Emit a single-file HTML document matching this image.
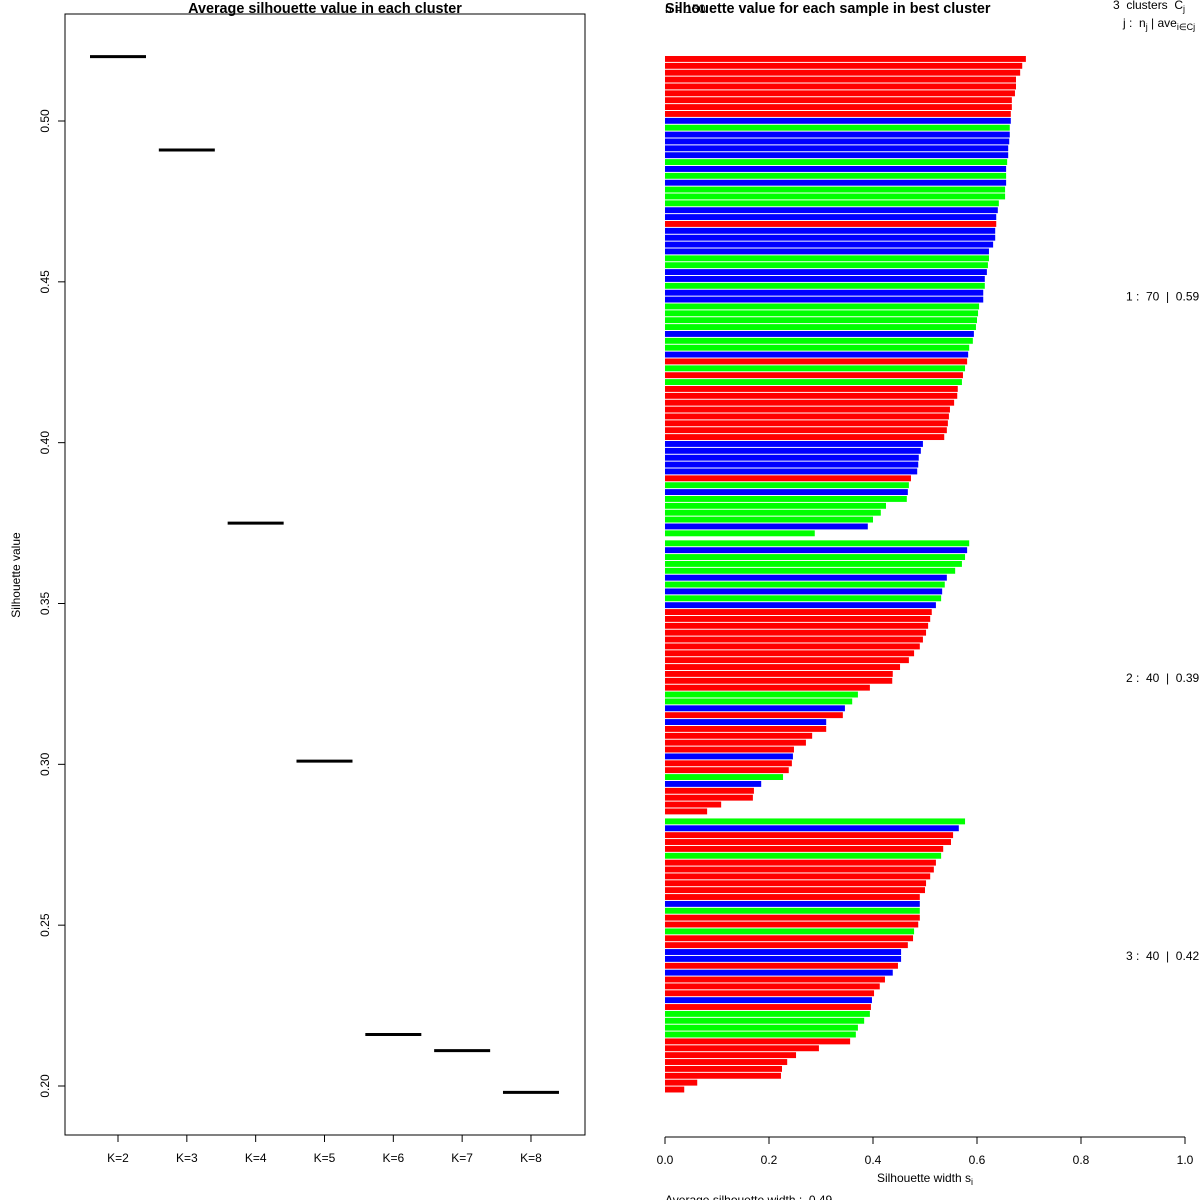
<!DOCTYPE html>
<html><head><meta charset="utf-8"><style>
html,body{margin:0;padding:0;background:#fff;}
svg{display:block;font-family:"Liberation Sans",sans-serif;}
svg text{white-space:pre;}
</style></head><body>
<svg id="chart" width="1200" height="1200" viewBox="0 0 1200 1200">
  <g id="left">
    <rect x="65" y="14" width="520" height="1121" fill="none" stroke="#000" stroke-width="1"/>
    <text x="325" y="13" text-anchor="middle" font-size="14.4" font-weight="bold">Average silhouette value in each cluster</text>
    <text transform="translate(20,575) rotate(-90)" text-anchor="middle" font-size="12">Silhouette value</text>
  </g>
  <g id="right">
    <text x="665" y="13" font-size="14.4" font-weight="bold">Silhouette value for each sample in best cluster</text>
    <text x="665" y="13" font-size="12">n = 150</text>
    <text x="1113" y="9" font-size="12">3  clusters  C<tspan font-size="9" dy="3">j</tspan></text>
    <text x="1123" y="27" font-size="12">j :  n<tspan font-size="9" dy="3">j</tspan><tspan dy="-3"> | ave</tspan><tspan font-size="9" dy="3">i∈Cj</tspan><tspan dy="-3">  s</tspan><tspan font-size="9" dy="3">i</tspan></text>
    <line x1="665" y1="1137" x2="1185" y2="1137" stroke="#000"/>
    <text x="925" y="1182" text-anchor="middle" font-size="12">Silhouette width s<tspan font-size="9" dy="3">i</tspan></text>
    <text x="665" y="1204" font-size="12">Average silhouette width :  0.49</text>
  </g>
</svg>
<script>
const kLabels = ["K=2","K=3","K=4","K=5","K=6","K=7","K=8"];
const kValues = [0.520,0.491,0.375,0.301,0.216,0.211,0.198];
const yTicks = [0.20,0.25,0.30,0.35,0.40,0.45,0.50];
const xTicks = [0.0,0.2,0.4,0.6,0.8,1.0];
const clusterLabels = ["1 :  70  |  0.59","2 :  40  |  0.39","3 :  40  |  0.42"];
const cluster1Values = [0.694,0.687,0.683,0.675,0.675,0.673,0.667,0.667,0.665,0.665,0.663,0.663,0.662,0.660,0.660,0.658,0.656,0.656,0.656,0.654,0.654,0.642,0.640,0.637,0.637,0.635,0.635,0.631,0.623,0.623,0.621,0.619,0.615,0.615,0.612,0.612,0.604,0.602,0.600,0.598,0.594,0.592,0.585,0.583,0.581,0.577,0.573,0.571,0.563,0.562,0.556,0.548,0.546,0.544,0.542,0.537,0.496,0.492,0.488,0.487,0.485,0.473,0.469,0.467,0.465,0.425,0.415,0.400,0.390,0.288];
const cluster1Colors = "RRRRRRRRRBGBBBBGBGBGGGBBRBBBBGGBBGBBGGGGBGGBRGRGRRRRRRRRBBBBBRGBGGGGBG";
const cluster2Values = [0.585,0.581,0.577,0.571,0.558,0.542,0.538,0.533,0.531,0.521,0.513,0.510,0.506,0.502,0.496,0.490,0.479,0.469,0.452,0.438,0.437,0.394,0.371,0.360,0.346,0.342,0.310,0.310,0.283,0.271,0.248,0.246,0.244,0.238,0.227,0.185,0.171,0.169,0.108,0.081];
const cluster2Colors = "GBGGGBGBGBRRRRRRRRRRRRGGBRBRRRRBRRGBRRRR";
const cluster3Values = [0.577,0.565,0.554,0.550,0.535,0.531,0.521,0.517,0.510,0.502,0.500,0.490,0.490,0.490,0.490,0.487,0.479,0.477,0.467,0.454,0.454,0.448,0.438,0.423,0.413,0.402,0.398,0.396,0.394,0.383,0.371,0.367,0.356,0.296,0.252,0.235,0.225,0.223,0.062,0.037];
const cluster3Colors = "GBRRRGRRRRRRBGRRGRRBBRBRRRBRGGGGRRRRRRRR";

const NS = "http://www.w3.org/2000/svg";
const L = document.getElementById('left');
const R = document.getElementById('right');
function mk(tag, attrs, parent){const e=document.createElementNS(NS,tag);for(const k in attrs)e.setAttribute(k,attrs[k]);parent.appendChild(e);return e;}

const yScale = v => 121 + (0.50 - v) * (1086 - 121) / 0.30;
const kX = i => 118 + i * 68.83;
yTicks.forEach(t => {
  const y = yScale(t);
  const tk = mk('line',{x1:58,x2:65,y1:y,y2:y,stroke:'#000'},L);
  
  
  const tx = mk('text',{transform:`translate(49,${y}) rotate(-90)`,'text-anchor':'middle','font-size':12},L);
  tx.textContent = t.toFixed(2);
  
  
});
kLabels.forEach((lab,i) => {
  const x = kX(i);
  const tk = mk('line',{x1:x,x2:x,y1:1135,y2:1142,stroke:'#000'},L);
  
  
  const tx = mk('text',{x:x,y:1162,'text-anchor':'middle','font-size':12},L);
  tx.textContent = lab;
  
  
  const y = yScale(kValues[i]);
  const seg = mk('line',{x1:x-28,x2:x+28,y1:y,y2:y,stroke:'#000','stroke-width':3},L);
  
  
});

const xScale = v => 665 + v * 520;
xTicks.forEach(t => {
  const x = xScale(t);
  const tk = mk('line',{x1:x,x2:x,y1:1137,y2:1144,stroke:'#000'},R);
  
  
  const tx = mk('text',{x:x,y:1164,'text-anchor':'middle','font-size':12},R);
  tx.textContent = t.toFixed(1);
  
  
});
const colorMap = {R:'#ff0000',G:'#00ff00',B:'#0000ff'};
const slot = 6.875, gap = 3.1, barH = 5.9;
let y = 56;
const clusters = [[cluster1Values,cluster1Colors],[cluster2Values,cluster2Colors],[cluster3Values,cluster3Colors]];
clusters.forEach(([vals,cols],ci) => {
  const startY = y;
  vals.forEach((v,i) => {
    const b = mk('rect',{x:665,y:y,width:xScale(v)-665,height:barH,fill:colorMap[cols[i]] || '#ff0000'},R);
    
    
    y += slot;
  });
  const mid = (startY + y) / 2;
  const lab = mk('text',{x:1126,y:mid+4,'font-size':12},R);
  lab.textContent = clusterLabels[ci];
  
  
  y += gap;
});
</script>
</body></html>
